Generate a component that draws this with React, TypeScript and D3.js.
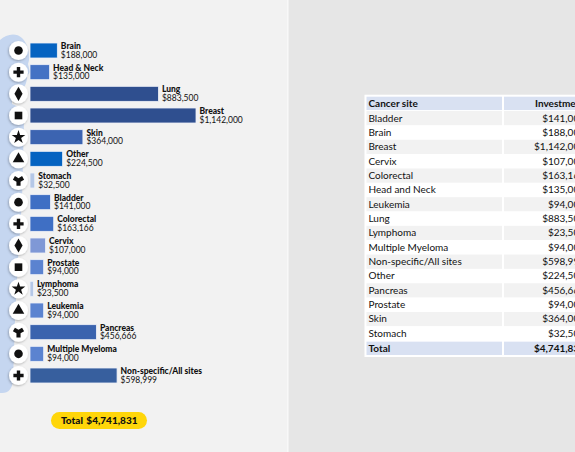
import React from 'react';
import * as d3 from 'd3';

// chart data
const sites = [
  'Brain', 'Head & Neck', 'Lung', 'Breast', 'Skin', 'Other', 'Stomach', 'Bladder',
  'Colorectal', 'Cervix', 'Prostate', 'Lymphoma', 'Leukemia', 'Pancreas',
  'Multiple Myeloma', 'Non-specific/All sites',
];
const investment = [
  188000, 135000, 883500, 1142000, 364000, 224500, 32500, 141000,
  163166, 107000, 94000, 23500, 94000, 456666, 94000, 598999,
];
const barColors = [
  '#0563c1', '#4472c4', '#2f4f8f', '#2f4f8f', '#3c64b1', '#0563c1', '#b4c7e7', '#3f6fc4',
  '#3f6fc4', '#7f98d6', '#5b83d0', '#b4c7e7', '#5b83d0', '#3a63ae', '#5b83d0', '#375f9e',
];

// table data
const tableSites = [
  'Bladder', 'Brain', 'Breast', 'Cervix', 'Colorectal', 'Head and Neck', 'Leukemia', 'Lung',
  'Lymphoma', 'Multiple Myeloma', 'Non-specific/All sites', 'Other', 'Pancreas', 'Prostate',
  'Skin', 'Stomach',
];
const tableValues = [
  141000, 188000, 1142000, 107000, 163166, 135000, 94000, 883500,
  23500, 94000, 598999, 224500, 456666, 94000, 364000, 32500,
];

const W = 575;
const H = 452;
const fmt = d3.format('$,');
const font = 'Lato, "Open Sans", sans-serif';

export default function App() {
  const total = d3.sum(investment);

  const x = d3.scaleLinear().domain([0, d3.max(investment) as number]).range([0, 166]);
  const y = d3.scalePoint<string>().domain(sites).range([50.5, 375.5]);
  const barH = 15;
  const barX = 30;

  const glyph = d3.symbol().size(58);
  const symbols = d3.symbolsFill;

  // table layout
  const rowH = 14.35;
  const tTop = 96.7;
  const c1 = [366.5, 502];
  const c2 = [504, 590];
  const rows = tableSites.map((s, i) => ({ s, v: tableValues[i] }));

  const body = 'M0,40 C6,34 16,32 22,38 C28,44 31,56 28,64 L30,72 L27,76 C27,84 24,90 17,92 L12,96 L12,104 C20,107 24,112 24,120 L22,200 L18,260 L15,320 L13,380 Q12,393 2,393 L0,393 Z';

  return (
    <svg width={W} height={H} style={{ position: 'absolute', left: 0, top: 0, fontFamily: font }}>
      <defs>
        <filter id="sh" x="-50%" y="-50%" width="200%" height="200%">
          <feDropShadow dx={-0.6} dy={1} stdDeviation={0.9} floodColor="#000" floodOpacity={0.3} />
        </filter>
      </defs>
      <rect x={0} y={0} width={287} height={H} fill="#f2f2f2" />
      <rect x={287} y={0} width={1.5} height={H} fill="#f8f8f8" />
      <rect x={288.5} y={0} width={W - 288.5} height={H} fill="#e6e6e6" />

      {/* body silhouette */}
      <path d={body} fill="#c5d6f0" />

      {sites.map((s, i) => {
        const cy = y(s) as number;
        const w = x(investment[i]);
        return (
          <g key={s}>
            <circle cx={18.5} cy={cy} r={9.5} fill="#fff" filter="url(#sh)" />
            <path d={glyph.type(symbols[i % symbols.length])() as string} transform={`translate(18.5,${cy})`} fill="#111" />
            <rect x={barX} y={cy - barH / 2} width={w} height={barH} fill={barColors[i]} stroke="#eef1f7" strokeWidth={0.8} />
            <text x={barX + w + 3.5} y={cy - 1.5} fontSize={8.5} fontWeight={900} fill="#111">{s}</text>
            <text x={barX + w + 3.5} y={cy + 7.3} fontSize={8.5} fill="#111">{fmt(investment[i])}</text>
          </g>
        );
      })}

      {/* total badge */}
      <rect x={51} y={412} width={96} height={17} rx={8.5} fill="#ffd60a" />
      <text x={61} y={424} fontSize={10} fontWeight={900} fill="#111">Total</text>
      <text x={137.5} y={424} fontSize={10} fontWeight={900} fill="#111" textAnchor="end">{fmt(total)}</text>

      {/* table */}
      <rect x={364.5} y={tTop - 2} width={W} height={rowH * 18 + 4} fill="#fff" />
      <rect x={c1[0]} y={tTop} width={c1[1] - c1[0]} height={rowH - 1} fill="#d9e1f2" />
      <rect x={c2[0]} y={tTop} width={c2[1] - c2[0]} height={rowH - 1} fill="#d9e1f2" />
      <text x={c1[0] + 2} y={tTop + 10} fontSize={10} fontWeight={700} fill="#111">Cancer site</text>
      <text x={c2[1] - 5} y={tTop + 10} fontSize={10} fontWeight={700} fill="#111" textAnchor="end">Investment</text>
      {rows.map((r, i) => {
        const top = tTop + rowH * (i + 1);
        const fill = i % 2 === 0 ? '#f2f2f2' : '#fff';
        return (
          <g key={r.s}>
            <rect x={c1[0]} y={top} width={c1[1] - c1[0]} height={rowH} fill={fill} />
            <rect x={c2[0]} y={top} width={c2[1] - c2[0]} height={rowH} fill={fill} />
            <text x={c1[0] + 2} y={top + 10.5} fontSize={10} fill="#111">{r.s}</text>
            <text x={c2[1] - 5} y={top + 10.5} fontSize={10} fill="#111" textAnchor="end">{fmt(r.v)}</text>
          </g>
        );
      })}
      <rect x={c1[0]} y={tTop + rowH * 17 + 1} width={c1[1] - c1[0]} height={rowH - 1} fill="#d9e1f2" />
      <rect x={c2[0]} y={tTop + rowH * 17 + 1} width={c2[1] - c2[0]} height={rowH - 1} fill="#d9e1f2" />
      <text x={c1[0] + 2} y={tTop + rowH * 17 + 11} fontSize={10} fontWeight={700} fill="#111">Total</text>
      <text x={c2[1] - 5} y={tTop + rowH * 17 + 11} fontSize={10} fontWeight={700} fill="#111" textAnchor="end">{fmt(total)}</text>
    </svg>
  );
}
